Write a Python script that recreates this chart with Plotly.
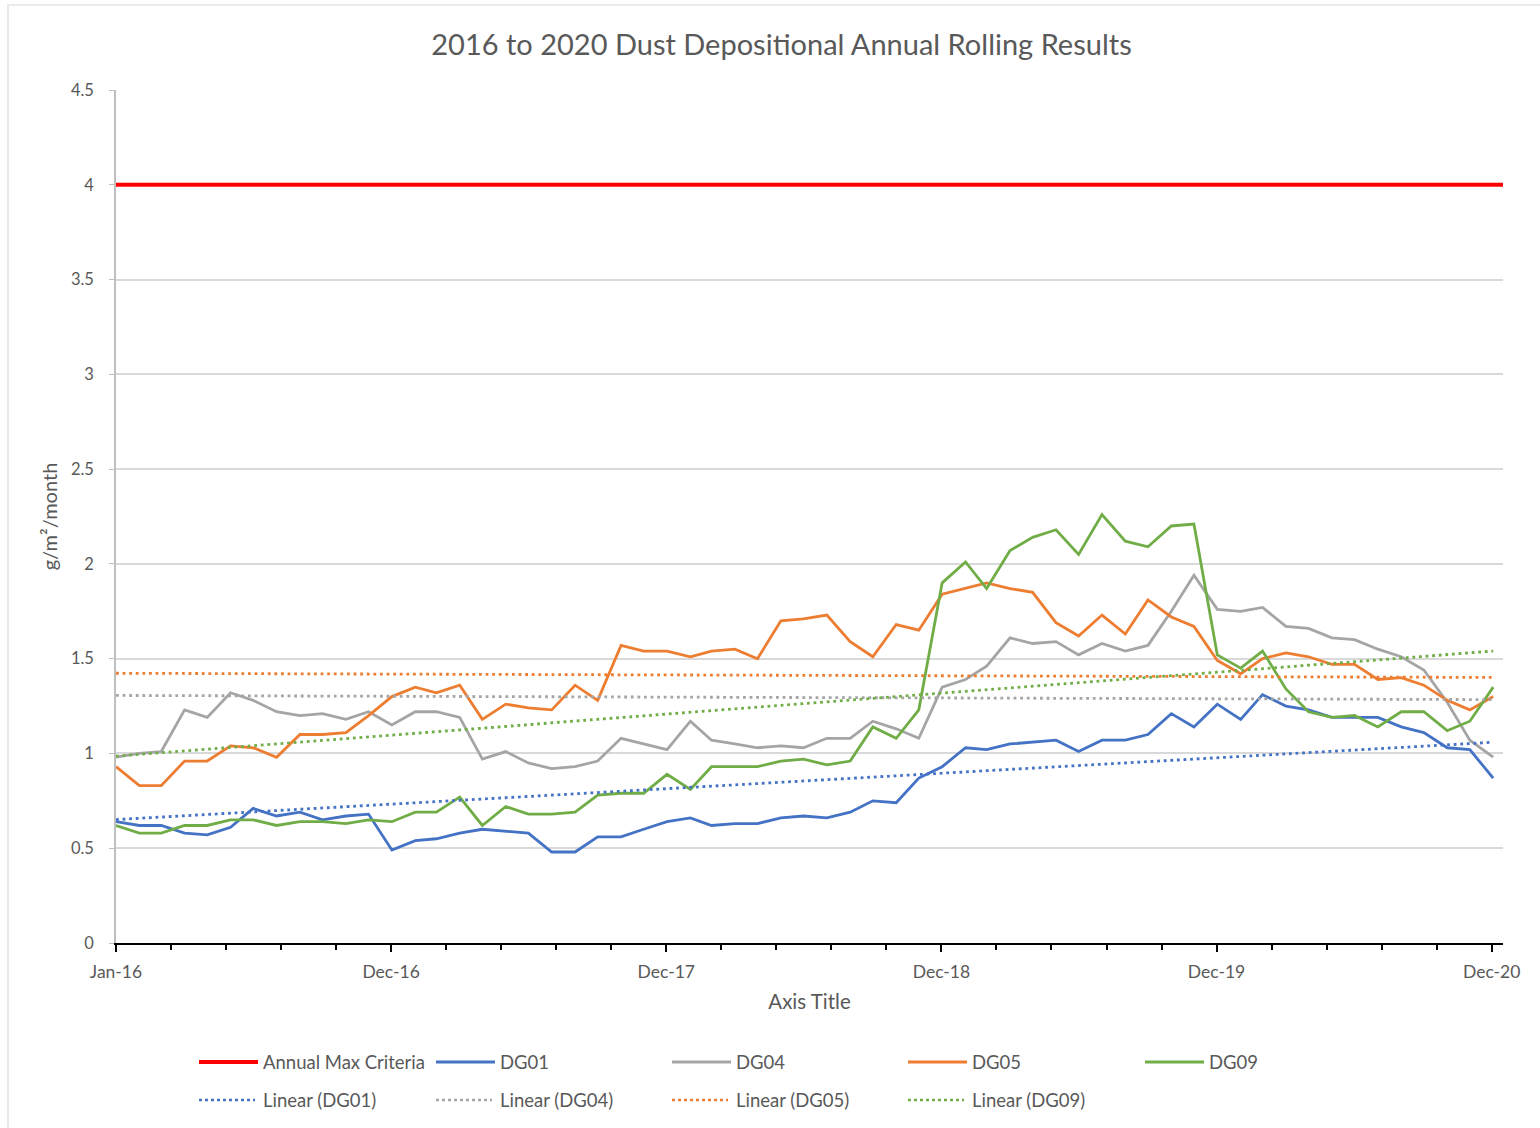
import plotly.graph_objects as go
import pandas as pd

# Monthly sampling dates, Jan 2016 - Jan 2021
dates = pd.date_range("2016-01-01", periods=61, freq="MS").strftime("%Y-%m-%d").tolist()

# Annual rolling dust deposition (g/m2/month)
dg01 = [0.64, 0.62, 0.62, 0.58, 0.57, 0.61, 0.71, 0.67, 0.69, 0.65, 0.67, 0.68, 0.49,
        0.54, 0.55, 0.58, 0.60, 0.59, 0.58, 0.48, 0.48, 0.56, 0.56, 0.60, 0.64,
        0.66, 0.62, 0.63, 0.63, 0.66, 0.67, 0.66, 0.69, 0.75, 0.74, 0.87, 0.93,
        1.03, 1.02, 1.05, 1.06, 1.07, 1.01, 1.07, 1.07, 1.10, 1.21, 1.14, 1.26,
        1.18, 1.31, 1.25, 1.23, 1.19, 1.19, 1.19, 1.14, 1.11, 1.03, 1.02, 0.87]
dg04 = [0.98, 1.00, 1.01, 1.23, 1.19, 1.32, 1.28, 1.22, 1.20, 1.21, 1.18, 1.22, 1.15,
        1.22, 1.22, 1.19, 0.97, 1.01, 0.95, 0.92, 0.93, 0.96, 1.08, 1.05, 1.02,
        1.17, 1.07, 1.05, 1.03, 1.04, 1.03, 1.08, 1.08, 1.17, 1.13, 1.08, 1.35,
        1.39, 1.46, 1.61, 1.58, 1.59, 1.52, 1.58, 1.54, 1.57, 1.75, 1.94, 1.76,
        1.75, 1.77, 1.67, 1.66, 1.61, 1.60, 1.55, 1.51, 1.44, 1.27, 1.07, 0.98]
dg05 = [0.93, 0.83, 0.83, 0.96, 0.96, 1.04, 1.03, 0.98, 1.10, 1.10, 1.11, 1.20, 1.30,
        1.35, 1.32, 1.36, 1.18, 1.26, 1.24, 1.23, 1.36, 1.28, 1.57, 1.54, 1.54,
        1.51, 1.54, 1.55, 1.50, 1.70, 1.71, 1.73, 1.59, 1.51, 1.68, 1.65, 1.84,
        1.87, 1.90, 1.87, 1.85, 1.69, 1.62, 1.73, 1.63, 1.81, 1.72, 1.67, 1.49,
        1.42, 1.50, 1.53, 1.51, 1.47, 1.47, 1.39, 1.40, 1.36, 1.28, 1.23, 1.30]
dg09 = [0.62, 0.58, 0.58, 0.62, 0.62, 0.65, 0.65, 0.62, 0.64, 0.64, 0.63, 0.65, 0.64,
        0.69, 0.69, 0.77, 0.62, 0.72, 0.68, 0.68, 0.69, 0.78, 0.79, 0.79, 0.89,
        0.81, 0.93, 0.93, 0.93, 0.96, 0.97, 0.94, 0.96, 1.14, 1.08, 1.23, 1.90,
        2.01, 1.87, 2.07, 2.14, 2.18, 2.05, 2.26, 2.12, 2.09, 2.20, 2.21, 1.52,
        1.45, 1.54, 1.34, 1.22, 1.19, 1.20, 1.14, 1.22, 1.22, 1.12, 1.17, 1.35]

# Linear trendline end values (start, end)
trend_dg01 = [0.651, 1.059]
trend_dg04 = [1.306, 1.284]
trend_dg05 = [1.423, 1.401]
trend_dg09 = [0.986, 1.540]

# Annual maximum criteria
criteria = [4, 4]

x_range = ["2016-01-01", "2021-01-14"]
tick_vals = ["2016-01-01", "2016-12-31", "2017-12-31", "2018-12-31", "2019-12-31", "2020-12-30"]
tick_text = ["Jan-16", "Dec-16", "Dec-17", "Dec-18", "Dec-19", "Dec-20"]

BLUE, GREY, ORANGE, GREEN, RED = "#4472C4", "#A5A5A5", "#ED7D31", "#70AD47", "#FF0000"
TXT = "#595959"
FONT = "Lato"

fig = go.Figure()

fig.add_trace(go.Scatter(x=x_range, y=criteria, mode="lines", name="Annual Max Criteria",
                         line=dict(color=RED, width=4)))
series = [("DG01", dg01, BLUE), ("DG04", dg04, GREY), ("DG05", dg05, ORANGE), ("DG09", dg09, GREEN)]
for name, vals, col in series:
    fig.add_trace(go.Scatter(x=dates, y=vals, mode="lines", name=name,
                             line=dict(color=col, width=2.8)))

trends = [("Linear (DG01)", trend_dg01, BLUE), ("Linear (DG04)", trend_dg04, GREY),
          ("Linear (DG05)", trend_dg05, ORANGE), ("Linear (DG09)", trend_dg09, GREEN)]
for name, vals, col in trends:
    fig.add_trace(go.Scatter(x=[dates[0], dates[-1]], y=vals, mode="lines", name=name,
                             line=dict(color=col, width=2.8, dash="2.8px,3.8px")))

fig.update_traces(showlegend=False)

# Plot area in pixels
L, R, T, B = 116, 1503, 90, 943
W, H = R - L, B - T


def px(xp):
    return (xp - L) / W


def py(yp):
    return (B - yp) / H


# Legend drawn below the axis title
legend_rows = [
    [("Annual Max Criteria", RED, "solid", 4), ("DG01", BLUE, "solid", 2.8), ("DG04", GREY, "solid", 2.8),
     ("DG05", ORANGE, "solid", 2.8), ("DG09", GREEN, "solid", 2.8)],
    [("Linear (DG01)", BLUE, "dot", 2.4), ("Linear (DG04)", GREY, "dot", 2.4),
     ("Linear (DG05)", ORANGE, "dot", 2.4), ("Linear (DG09)", GREEN, "dot", 2.4)],
]
col_x = [199, 436, 672, 908, 1145]
row_y = [1062, 1100]
shapes = []
annotations = []
for r, row in enumerate(legend_rows):
    for c, (label, col, dash, lw) in enumerate(row):
        x0 = col_x[c]
        x1 = x0 + (59 if dash == "solid" else 56)
        shapes.append(dict(type="line", xref="paper", yref="paper",
                           x0=px(x0), x1=px(x1), y0=py(row_y[r]), y1=py(row_y[r]),
                           line=dict(color=col, width=lw, dash=dash)))
        annotations.append(dict(text=label, xref="paper", yref="paper",
                                x=px(x0 + 62), y=py(row_y[r]), xanchor="left", yanchor="middle",
                                showarrow=False, font=dict(family=FONT, size=18.5, color=TXT)))

# Chart frame
shapes.append(dict(type="rect", xref="paper", yref="paper", layer="below",
                   x0=px(8), x1=px(1545), y0=py(1140), y1=py(5),
                   line=dict(color="#D9D9D9", width=1.2), fillcolor="rgba(0,0,0,0)"))

fig.update_layout(
    width=1540, height=1128,
    margin=dict(l=L, r=1540 - R, t=T, b=1128 - B),
    paper_bgcolor="white", plot_bgcolor="white",
    font=dict(family=FONT, color=TXT),
    title=dict(text="2016 to 2020 Dust Depositional Annual Rolling Results",
               x=781.5 / 1540, xanchor="center", y=1 - 45 / 1128, yanchor="middle",
               font=dict(family=FONT, size=29, color=TXT)),
    xaxis=dict(type="date", range=x_range, tickmode="array", tickvals=tick_vals, ticktext=tick_text,
               showgrid=False, zeroline=False, showline=True, linecolor="black", linewidth=2,
               ticks="outside", ticklen=7, tickwidth=1.5, tickcolor="black",
               tickfont=dict(family=FONT, size=17.5, color=TXT), ticklabelstandoff=5,
               minor=dict(ticks="outside", ticklen=5, tickwidth=1.5, tickcolor="black",
                          tick0="2016-01-01", dtick=73 * 86400000, showgrid=False),
               title=dict(text="Axis Title", font=dict(family=FONT, size=20.5, color=TXT), standoff=14)),
    yaxis=dict(range=[0, 4.5], dtick=0.5, tick0=0, showgrid=True, gridcolor="#D9D9D9", gridwidth=1.5,
               zeroline=False, showline=True, linecolor="#BFBFBF", linewidth=1.5,
               ticks="outside", ticklen=5, tickcolor="#BFBFBF", tickwidth=1.2,
               tickfont=dict(family=FONT, size=16.5, color=TXT), ticklabelstandoff=12,
               title=dict(text="g/m²/month", font=dict(family=FONT, size=20, color=TXT), standoff=8)),
    shapes=shapes,
    annotations=annotations,
)

fig.write_html("out.html")
